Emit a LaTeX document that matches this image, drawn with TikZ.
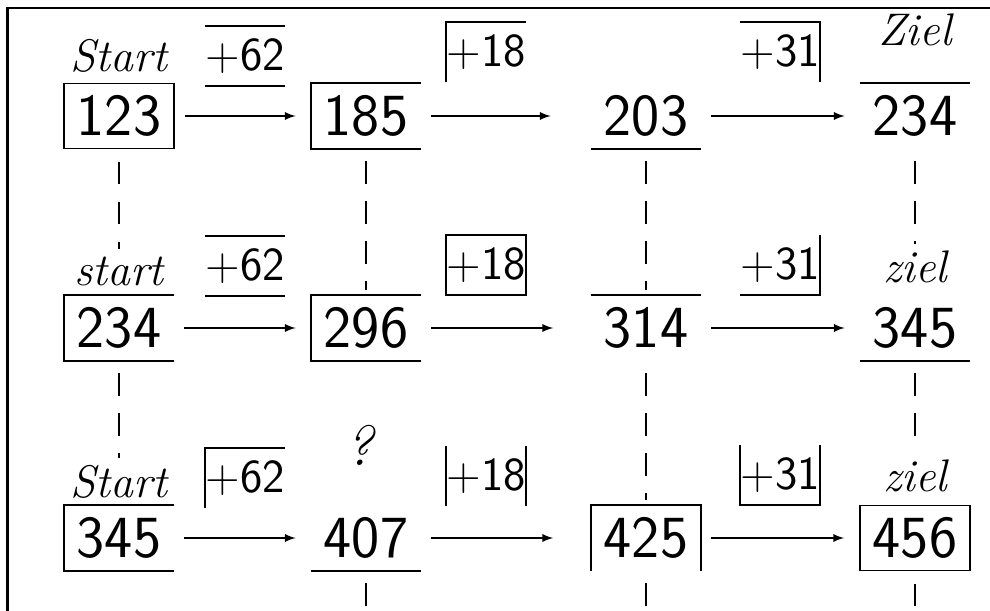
\documentclass[tikz,border=0pt]{standalone}
\usepackage{tikz}
\usetikzlibrary{arrows,positioning}

\tikzset{
  frame/.style={draw, line width=1.1pt},
  fbox/.style={draw, line width=1.1pt},
  num/.style={minimum width=2.2cm, minimum height=1.3cm, inner sep=0pt, font=\sffamily\fontsize{34}{34}\selectfont},
  opbox/.style={minimum width=1.5cm, minimum height=1.2cm, inner sep=0pt, font=\sffamily\fontsize{27}{27}\selectfont},
  lbl/.style={inner sep=1pt, font=\itshape\fontsize{26}{26}\selectfont},
  flow/.style={->, >=latex, line width=1.1pt, shorten <=0.2cm, shorten >=0.3cm},
  link/.style={line width=1.5pt, dash pattern=on 0.45cm off 0.35cm, shorten <=0.25cm, shorten >=0.1cm}
}

\begin{document}
\begin{tikzpicture}
    \useasboundingbox (0,0) rectangle (19.8,-12.22);

    % Sheet border
    \draw[line width=1.6pt] (19.8,-0.16) -- (0.15,-0.16) -- (0.15,-12.22);

    % Row 1
    \node[num, fbox] (n123) at (2.38,-2.32) {123};
    \node[num] (n185) at (7.32,-2.32) {185};
    \node[num] (n203) at (12.92,-2.32) {203};
    \node[num] (n234) at (18.3,-2.32) {234};
    \node[lbl, above=0.15cm of n123] (start1) {Start};
    \node[lbl, above=0.7cm of n234] (ziel1) {Ziel};
    \node[opbox] (op62a) at (4.9,-1.12) {+62};
    \node[opbox] (op18a) at (9.72,-1.04) {+18};
    \node[opbox] (op31a) at (15.6,-1.04) {+31};

    % Row 2
    \node[num] (s234) at (2.38,-6.56) {234};
    \node[num] (n296) at (7.32,-6.56) {296};
    \node[num] (n314) at (12.92,-6.56) {314};
    \node[num] (z345) at (18.3,-6.56) {345};
    \node[lbl, above=0.15cm of s234] (start2) {start};
    \node[lbl, above=0.2cm of z345] (ziel2) {ziel};
    \node[opbox] (op62b) at (4.9,-5.32) {+62};
    \node[opbox, fbox] (op18b) at (9.72,-5.3) {+18};
    \node[opbox] (op31b) at (15.6,-5.3) {+31};

    % Row 3
    \node[num] (s345) at (2.38,-10.76) {345};
    \node[num] (n407) at (7.32,-10.76) {407};
    \node[num] (n425) at (12.92,-10.76) {425};
    \node[num, fbox] (z456) at (18.3,-10.76) {456};
    \node[lbl, above=0.1cm of s345] (start3) {Start};
    \node[lbl, above=0.2cm of z456] (ziel3) {ziel};
    \node[opbox] (op62c) at (4.9,-9.56) {+62};
    \node[opbox] (op18c) at (9.72,-9.52) {+18};
    \node[opbox] (op31c) at (15.6,-9.5) {+31};

    \node[lbl, font=\itshape\fontsize{32}{32}\selectfont] (quest) at (7.2,-8.9) {?};

    % Open frames of the numbers
    \draw[frame] (n185.south east) -- (n185.south west) -- (n185.north west) -- (n185.north east);
    \draw[frame] (n203.south west) -- (n203.south east);
    \draw[frame] (n234.north west) -- (n234.north east);
    \draw[frame] (s234.south east) -- (s234.south west) -- (s234.north west) -- (s234.north east);
    \draw[frame] (n296.south east) -- (n296.south west) -- (n296.north west) -- (n296.north east);
    \draw[frame] (n314.north west) -- (n314.north east);
    \draw[frame] (z345.south west) -- (z345.south east);
    \draw[frame] (s345.south east) -- (s345.south west) -- (s345.north west) -- (s345.north east);
    \draw[frame] (n407.south west) -- (n407.south east);
    \draw[frame] (n425.south west) -- (n425.north west) -- (n425.north east) -- (n425.south east);

    % Open frames of the operations
    \draw[frame] (op62a.north west) -- (op62a.north east);
    \draw[frame] (op62a.south west) -- (op62a.south east);
    \draw[frame] (op18a.south west) -- (op18a.north west) -- (op18a.north east);
    \draw[frame] (op31a.north west) -- (op31a.north east) -- (op31a.south east);
    \draw[frame] (op62b.north west) -- (op62b.north east);
    \draw[frame] (op62b.south west) -- (op62b.south east);
    \draw[frame] (op31b.north east) -- (op31b.south east) -- (op31b.south west);
    \draw[frame] (op62c.south west) -- (op62c.north west) -- (op62c.north east);
    \draw[frame] (op18c.north west) -- (op18c.south west);
    \draw[frame] (op18c.north east) -- (op18c.south east);
    \draw[frame] (op31c.north west) -- (op31c.south west) -- (op31c.south east) -- (op31c.north east);

    % Steps
    \draw[flow] (n123) -- (n185);
    \draw[flow, shorten >=0.8cm] (n185) -- (n203);
    \draw[flow] (n203) -- (n234);
    \draw[flow] (s234) -- (n296);
    \draw[flow, shorten >=0.75cm] (n296) -- (n314);
    \draw[flow] (n314) -- (z345);
    \draw[flow] (s345) -- (n407);
    \draw[flow, shorten >=0.75cm] (n407) -- (n425);
    \draw[flow] (n425) -- (z456);

    % Columns
    \coordinate (end2) at (7.32,-12.22);
    \coordinate (end3) at (12.92,-12.22);
    \coordinate (end4) at (18.3,-12.22);
    \draw[link] (n123.south) -- (start2.north);
    \draw[link] (s234.south) -- (start3.north);
    \draw[link] (n185.south) -- (n296.north);
    \draw[link] (n407.south) -- (end2);
    \draw[link] (n203.south) -- (n314.north);
    \draw[link] (n314.south) -- (n425.north);
    \draw[link] (n425.south) -- (end3);
    \draw[link] (n234.south) -- (ziel2.north);
    \draw[link] (z345.south) -- (ziel3.north);
    \draw[link] (z456.south) -- (end4);
\end{tikzpicture}
\end{document}
